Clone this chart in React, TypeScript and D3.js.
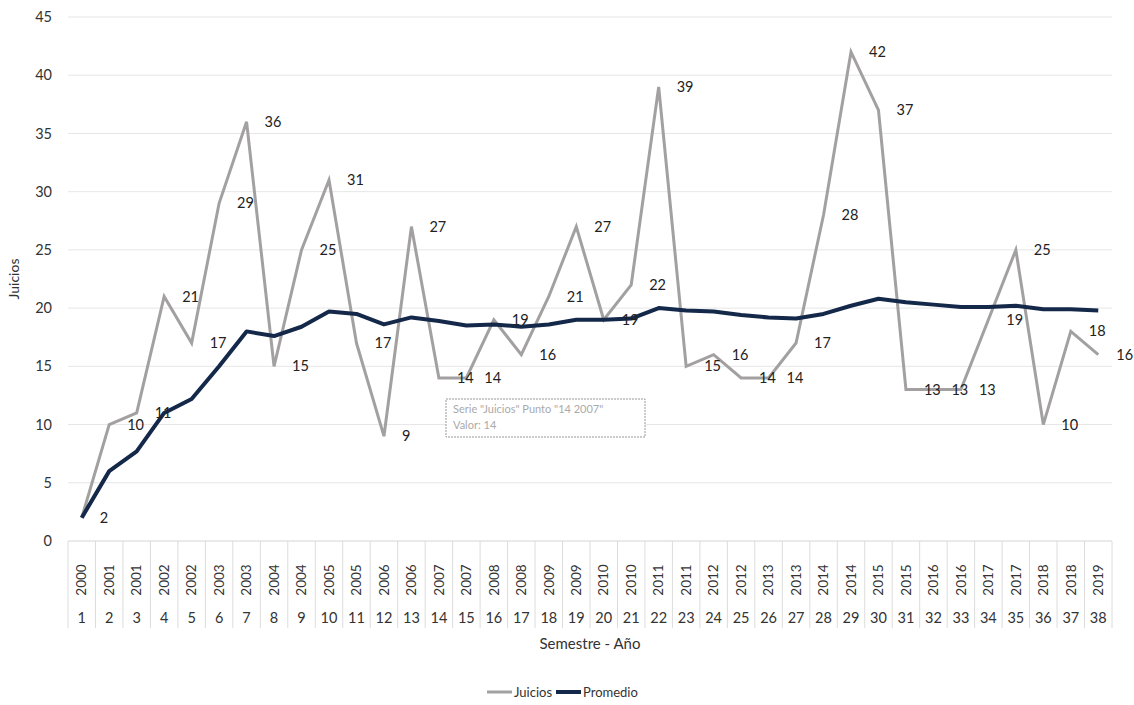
import { useRef, useEffect } from 'react';
import * as d3 from 'd3';

const semestres = d3.range(1, 39).map(String);
const anios = ['2000', '2001', '2001', '2002', '2002', '2003', '2003', '2004', '2004', '2005',
    '2005', '2006', '2006', '2007', '2007', '2008', '2008', '2009', '2009', '2010',
    '2010', '2011', '2011', '2012', '2012', '2013', '2013', '2014', '2014', '2015',
    '2015', '2016', '2016', '2017', '2017', '2018', '2018', '2019'];
const juicios = [2, 10, 11, 21, 17, 29, 36, 15, 25, 31, 17, 9, 27, 14, 14, 19, 16, 21, 27, 19,
    22, 39, 15, 16, 14, 14, 17, 28, 42, 37, 13, 13, 13, 19, 25, 10, 18, 16];
const promedio = [2.0, 6.0, 7.7, 11.0, 12.2, 15.0, 18.0, 17.6, 18.4, 19.7, 19.5, 18.6, 19.2, 18.9,
    18.5, 18.6, 18.4, 18.6, 19.0, 19.0, 19.1, 20.0, 19.8, 19.7, 19.4, 19.2, 19.1, 19.5, 20.2,
    20.8, 20.5, 20.3, 20.1, 20.1, 20.2, 19.9, 19.9, 19.8];
const yTicks = [0, 5, 10, 15, 20, 25, 30, 35, 40, 45];

const FONT = 'Lato, "Open Sans", sans-serif';

const Chart = () => {
    const ref = useRef<SVGSVGElement>(null);

    useEffect(() => {
        const svg = d3.select(ref.current);
        svg.selectAll('*').remove();

        const left = 68, right = 1112, top = 17, bottom = 541;

        const x = d3.scaleBand<string>()
            .domain(semestres)
            .range([left, right])
            .padding(0);
        const cx = (i: number) => x(semestres[i])! + x.bandwidth() / 2;

        const y = d3.scaleLinear()
            .domain([0, 45])
            .range([bottom, top]);

        // gridlines
        svg.append('g')
            .selectAll('line')
            .data(yTicks)
            .enter().append('line')
            .attr('x1', left)
            .attr('x2', right)
            .attr('y1', d => y(d))
            .attr('y2', d => y(d))
            .attr('stroke', d => d === 0 ? '#d4d4d4' : '#e6e6e6')
            .attr('stroke-width', 1);

        // y tick labels
        svg.append('g')
            .selectAll('text')
            .data(yTicks)
            .enter().append('text')
            .attr('x', 52)
            .attr('y', d => y(d))
            .attr('dy', '0.35em')
            .attr('text-anchor', 'end')
            .attr('font-family', FONT)
            .attr('font-size', '14.5px')
            .attr('fill', '#333')
            .text(d => d);

        // y axis title
        svg.append('text')
            .attr('transform', `translate(19, ${(top + bottom) / 2}) rotate(-90)`)
            .attr('text-anchor', 'middle')
            .attr('font-family', FONT)
            .attr('font-size', '14px')
            .attr('fill', '#333')
            .text('Juicios');

        // category table separators
        const bounds = semestres.map(s => x(s)!).concat([right]);
        svg.append('g')
            .selectAll('line')
            .data(bounds)
            .enter().append('line')
            .attr('x1', d => d)
            .attr('x2', d => d)
            .attr('y1', bottom)
            .attr('y2', 628)
            .attr('stroke', '#dcdcdc')
            .attr('stroke-width', 1);

        // year labels (rotated)
        svg.append('g')
            .selectAll('text')
            .data(anios)
            .enter().append('text')
            .attr('transform', (_, i) => `translate(${cx(i)}, 580) rotate(-90)`)
            .attr('dy', '0.35em')
            .attr('text-anchor', 'middle')
            .attr('font-family', FONT)
            .attr('font-size', '13.5px')
            .attr('fill', '#333')
            .text(d => d);

        // semester numbers
        svg.append('g')
            .selectAll('text')
            .data(semestres)
            .enter().append('text')
            .attr('x', (_, i) => cx(i))
            .attr('y', 618)
            .attr('dy', '0.35em')
            .attr('text-anchor', 'middle')
            .attr('font-family', FONT)
            .attr('font-size', '14.5px')
            .attr('fill', '#333')
            .text(d => d);

        // x axis title
        svg.append('text')
            .attr('x', (left + right) / 2)
            .attr('y', 644)
            .attr('dy', '0.35em')
            .attr('text-anchor', 'middle')
            .attr('font-family', FONT)
            .attr('font-size', '15px')
            .attr('fill', '#333')
            .text('Semestre - Año');

        const line = d3.line<number>()
            .x((_, i) => cx(i))
            .y(d => y(d));

        svg.append('path')
            .datum(juicios)
            .attr('d', line)
            .attr('fill', 'none')
            .attr('stroke', '#a3a0a2')
            .attr('stroke-width', 3)
            .attr('stroke-linejoin', 'miter');

        svg.append('path')
            .datum(promedio)
            .attr('d', line)
            .attr('fill', 'none')
            .attr('stroke', '#14284a')
            .attr('stroke-width', 4)
            .attr('stroke-linejoin', 'round');

        // data labels
        svg.append('g')
            .selectAll('text')
            .data(juicios)
            .enter().append('text')
            .attr('x', (_, i) => cx(i) + 18)
            .attr('y', d => y(d))
            .attr('dy', '0.35em')
            .attr('font-family', FONT)
            .attr('font-size', '14.5px')
            .attr('fill', '#222')
            .text(d => d);

        // tooltip left on the chart
        const tip = svg.append('g')
            .attr('transform', 'translate(446, 399)');
        tip.append('rect')
            .attr('width', 199)
            .attr('height', 38)
            .attr('fill', '#fff')
            .attr('stroke', '#999')
            .attr('stroke-dasharray', '2,1')
            .attr('stroke-width', 1);
        tip.append('text')
            .attr('x', 7)
            .attr('y', 14)
            .attr('font-family', FONT)
            .attr('font-size', '11px')
            .attr('fill', '#aaa')
            .text('Serie "Juicios" Punto "14 2007"');
        tip.append('text')
            .attr('x', 7)
            .attr('y', 30)
            .attr('font-family', FONT)
            .attr('font-size', '11px')
            .attr('fill', '#aaa')
            .text('Valor: 14');

        // legend
        const legend = svg.append('g')
            .attr('transform', 'translate(0, 692)');
        const items = [
            { label: 'Juicios', color: '#a3a0a2', w: 3, x0: 487 },
            { label: 'Promedio', color: '#14284a', w: 4, x0: 556 },
        ];
        items.forEach(it => {
            legend.append('line')
                .attr('x1', it.x0)
                .attr('x2', it.x0 + 25)
                .attr('y1', 0)
                .attr('y2', 0)
                .attr('stroke', it.color)
                .attr('stroke-width', it.w);
            legend.append('text')
                .attr('x', it.x0 + 27)
                .attr('y', 0)
                .attr('dy', '0.35em')
                .attr('font-family', FONT)
                .attr('font-size', '13px')
                .attr('fill', '#333')
                .text(it.label);
        });
    }, []);

    return <svg ref={ref} width={1134} height={705}
        style={{ position: 'absolute', left: 0, top: 0, background: '#fff' }}></svg>;
};

export default function App() {
    return <Chart />;
}
